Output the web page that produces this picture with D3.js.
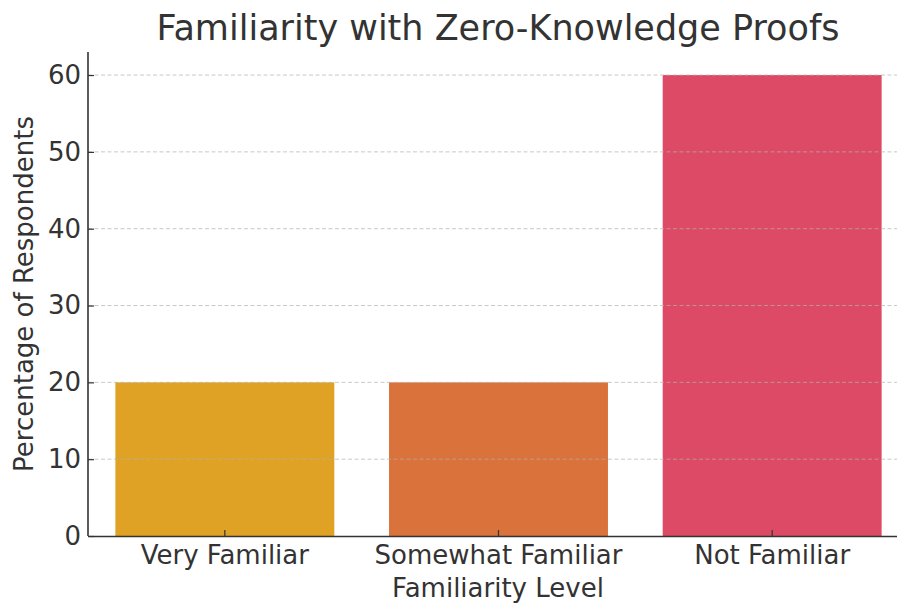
<!DOCTYPE html>
<html>
<head>
<meta charset="utf-8">
<script src="https://cdn.jsdelivr.net/npm/d3@7"></script>
<style>
    body { margin: 0; background: #fff; }
    svg { display: block; font-family: "DejaVu Sans", sans-serif; }
</style>
</head>
<body>
<div id="graf"></div>
<script>
// Datos
const categorias = ["Very Familiar", "Somewhat Familiar", "Not Familiar"];
const porcentajes = [20, 20, 60];
const colores = ["#E0A225", "#DA723B", "#DC4A65"];
const yTicks = [0, 10, 20, 30, 40, 50, 60];

const anchoTotal = 897, altoTotal = 606;
const margins = { top: 52, right: -12, bottom: 70, left: 88 };
const alto = altoTotal - margins.top - margins.bottom;
const ancho = anchoTotal - margins.left - margins.right;
const textColor = "#333333";

const svg = d3.select("#graf").append("svg")
    .attr("width", anchoTotal)
    .attr("height", altoTotal);

const g = svg.append("g").attr("transform", `translate(${margins.left}, ${margins.top})`);

// Escaladores
const x = d3.scaleBand().domain(categorias).range([0, ancho]).paddingInner(0.2).paddingOuter(0.1);
const y = d3.scaleLinear().domain([0, 63]).range([alto, 0]);

// Rectángulos
g.selectAll("rect.bar")
    .data(categorias)
    .join("rect")
    .attr("class", "bar")
    .attr("x", d => x(d))
    .attr("y", (d, i) => y(porcentajes[i]))
    .attr("width", x.bandwidth())
    .attr("height", (d, i) => y(0) - y(porcentajes[i]))
    .attr("fill", (d, i) => colores[i]);

// Grid
g.append("g")
    .selectAll("line")
    .data(yTicks.filter(t => t > 0))
    .join("line")
    .attr("x1", 0)
    .attr("x2", ancho)
    .attr("y1", d => y(d))
    .attr("y2", d => y(d))
    .attr("stroke", "#b0b0b0")
    .attr("stroke-opacity", 0.7)
    .attr("stroke-width", 1)
    .attr("stroke-dasharray", "4,2.5");

// Ejes
const yAxis = g.append("g")
    .call(d3.axisLeft(y).tickValues(yTicks).tickSize(-6).tickPadding(7));
const xAxis = g.append("g")
    .attr("transform", `translate(0, ${alto})`)
    .call(d3.axisBottom(x).tickSize(-6).tickPadding(10).tickSizeOuter(0));

[xAxis, yAxis].forEach(ax => {
    ax.select(".domain").attr("stroke", textColor).attr("stroke-width", 1.6);
    ax.selectAll(".tick line").attr("stroke", textColor).attr("stroke-width", 1.2);
    ax.selectAll(".tick text")
        .attr("fill", textColor)
        .style("font-size", "26px")
        .style("font-family", "DejaVu Sans, sans-serif");
});
yAxis.select(".domain").attr("d", `M0,${alto}V0`);

// Títulos
svg.append("text")
    .attr("x", 498)
    .attr("y", 40)
    .attr("text-anchor", "middle")
    .attr("fill", textColor)
    .style("font-size", "35px")
    .text("Familiarity with Zero-Knowledge Proofs");

svg.append("text")
    .attr("x", 498)
    .attr("y", 597)
    .attr("text-anchor", "middle")
    .attr("fill", textColor)
    .style("font-size", "26px")
    .text("Familiarity Level");

svg.append("text")
    .attr("transform", `translate(33, ${margins.top + alto / 2}) rotate(-90)`)
    .attr("text-anchor", "middle")
    .attr("fill", textColor)
    .style("font-size", "26px")
    .text("Percentage of Respondents");
</script>
</body>
</html>
